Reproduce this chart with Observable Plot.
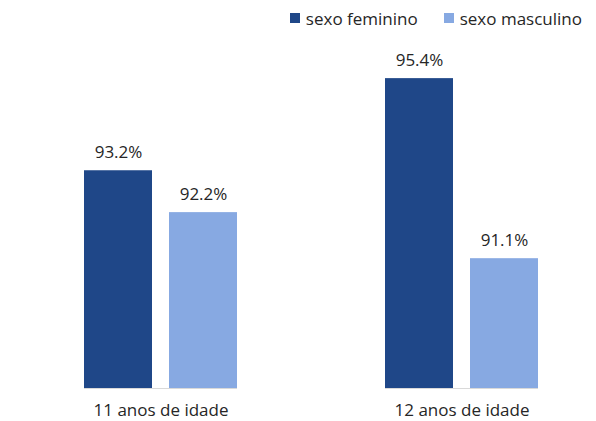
<!DOCTYPE html>
<html>
<head>
<meta charset="utf-8">
<script src="https://cdn.jsdelivr.net/npm/d3@7"></script>
<script src="https://cdn.jsdelivr.net/npm/@observablehq/plot@0.6"></script>
<style>
  html, body { margin: 0; padding: 0; background: #fff; }
  body { width: 596px; height: 421px; overflow: hidden; font-family: "Open Sans", sans-serif; color: #262626; }
  #legend { height: 36px; display: flex; justify-content: flex-end; align-items: center; gap: 26px; padding-right: 14px; font-size: 17px; box-sizing: border-box; }
  #legend span.item { display: flex; align-items: center; gap: 6px; }
  #legend span.sw { width: 10px; height: 10px; display: inline-block; }
</style>
</head>
<body>
<div id="legend"></div>
<div id="chart"></div>
<script>
const ages = ["11 anos de idade", "12 anos de idade"];
const sexes = ["sexo feminino", "sexo masculino"];
const colors = ["#1f4788", "#87a9e2"];
const feminino = [93.2, 95.4];
const masculino = [92.2, 91.1];

const data = ages.flatMap((age, i) => [
  {age, sex: sexes[0], value: feminino[i]},
  {age, sex: sexes[1], value: masculino[i]}
]);

const legend = document.getElementById("legend");
sexes.forEach((s, i) => {
  const item = document.createElement("span");
  item.className = "item";
  item.innerHTML = `<span class="sw" style="background:${colors[i]}"></span><span>${s}</span>`;
  legend.appendChild(item);
});

const chart = Plot.plot({
  width: 596,
  height: 385,
  marginTop: 17,
  marginBottom: 33,
  marginLeft: 10,
  marginRight: -16,
  style: {fontFamily: "Open Sans, sans-serif", fontSize: "17px", color: "#262626"},
  fx: {domain: ages, paddingInner: 0.4917, paddingOuter: 0.2458, label: null, axis: "bottom", tickSize: 0, tickPadding: 15},
  x: {domain: sexes, paddingInner: 0.2, paddingOuter: 0, axis: null},
  y: {domain: [88, 96], axis: null},
  color: {domain: sexes, range: colors},
  marks: [
    Plot.barY(data, {fx: "age", x: "sex", y1: 88, y2: "value", fill: "sex"}),
    Plot.text(data, {fx: "age", x: "sex", y: "value", text: d => d.value.toFixed(1) + "%", dy: -18, fill: "#262626", fontSize: 17}),
    Plot.ruleY([88], {stroke: "#d9d9d9", strokeWidth: 1})
  ]
});
document.getElementById("chart").appendChild(chart);
</script>
</body>
</html>
